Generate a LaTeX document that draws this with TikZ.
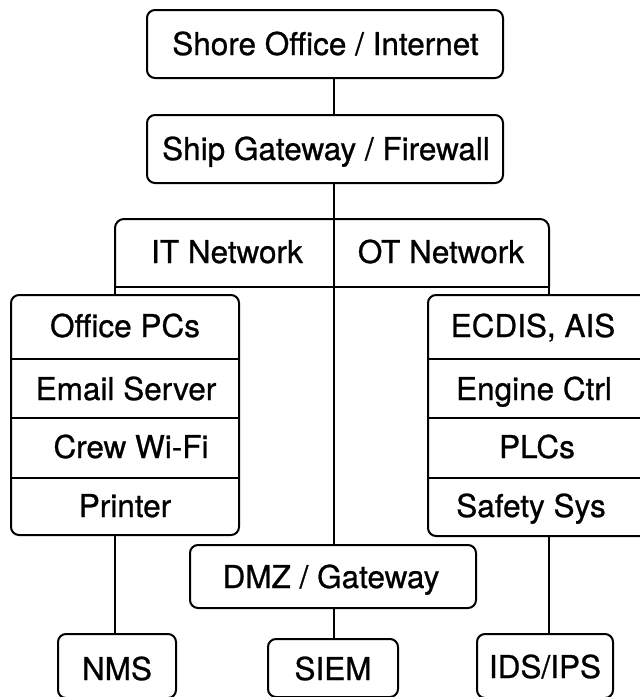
\documentclass[tikz,border=0pt]{standalone}
\usepackage{fontspec}
\setmainfont{TeX Gyre Heros}
\newfontfamily\medfont{TeX Gyre Heros}[FakeBold=0.8]
\begin{document}
\begin{tikzpicture}[x=1pt,y=-1pt,
  line width=2pt, line join=round,
  box/.style={draw, rounded corners=8pt, inner sep=0pt},
  plain/.style={draw=none, inner sep=0pt},
  lbl/.style={inner sep=0pt, anchor=base, font=\medfont\fontsize{31.5}{36}\selectfont},
]
\useasboundingbox (0,0) rectangle (640,697);
\begin{scope}
\clip (0,0) rectangle (640,697);
% top boxes
\node[box, minimum width=356pt, minimum height=68pt] (shore) at (325,44) {};
\node[lbl] (shoretxt) at (325.5,55) {Shore Office / Internet};
\node[box, minimum width=356pt, minimum height=68pt] (ship) at (325,149) {};
\node[lbl] (shiptxt) at (326,160) {Ship Gateway / Firewall};
\coordinate (spine) at (334,0);
% network header
\node[plain, minimum width=432pt, minimum height=66pt] (net) at (332,253) {};
\draw[rounded corners=9pt] (net.south west) -- (net.north west) -- (net.north east) -- (net.south east);
\draw (net.south west) -- (net.south east);
\node[lbl] (it) at (227,263) {IT Network};
\node[lbl] (ot) at (441,263) {OT Network};
% IT list
\node[box, minimum width=228pt, minimum height=240pt] (itlist) at (125,415) {};
\node[lbl] (pc) at (125,337) {Office PCs};
\node[lbl] (mail) at (126,400) {Email Server};
\node[lbl] (wifi) at (131,458) {Crew Wi-Fi};
\node[lbl] (prn) at (125,517) {Printer};
\foreach \yy in {359,418,478} \draw (itlist.west |- 0,\yy) -- (itlist.east |- 0,\yy);
% OT list
\node[box, minimum width=222pt, minimum height=241pt] (otlist) at (539,415.5) {};
\node[lbl] (ecdis) at (533,337) {ECDIS, AIS};
\node[lbl] (eng) at (534,400) {Engine Ctrl};
\node[lbl] (plc) at (537,458) {PLCs};
\node[lbl] (safe) at (531,517) {Safety Sys};
\foreach \yy in {359,418,478} \draw (otlist.west |- 0,\yy) -- (otlist.east |- 0,\yy);
% DMZ
\node[box, minimum width=286pt, minimum height=63pt] (dmz) at (333,576.5) {};
\node[lbl] (dmztxt) at (331,588) {DMZ / Gateway};
% bottom
\node[box, minimum width=118pt, minimum height=64pt] (nms) at (117,666) {};
\node[lbl] (nmstxt) at (117,680) {NMS};
\node[box, minimum width=130pt, minimum height=58pt] (siem) at (333,668) {};
\node[lbl] (siemtxt) at (333,680) {SIEM};
\node[box, minimum width=136pt, minimum height=64pt] (ids) at (545,666) {};
\node[lbl] (idstxt) at (545,678) {IDS/IPS};
% connectors
\draw (shore.south -| spine) -- (ship.north -| spine);
\draw (ship.south -| spine) -- (dmz.north -| spine);
\draw (net.south west) -- (itlist.north -| net.south west);
\draw (net.south east) -- (otlist.north -| net.south east);
\draw (itlist.south -| net.south west) -- (nms.north -| net.south west);
\draw (otlist.south -| net.south east) -- (ids.north -| net.south east);
\draw (dmz.south -| spine) -- (siem.north -| spine);
\end{scope}
\end{tikzpicture}
\end{document}
